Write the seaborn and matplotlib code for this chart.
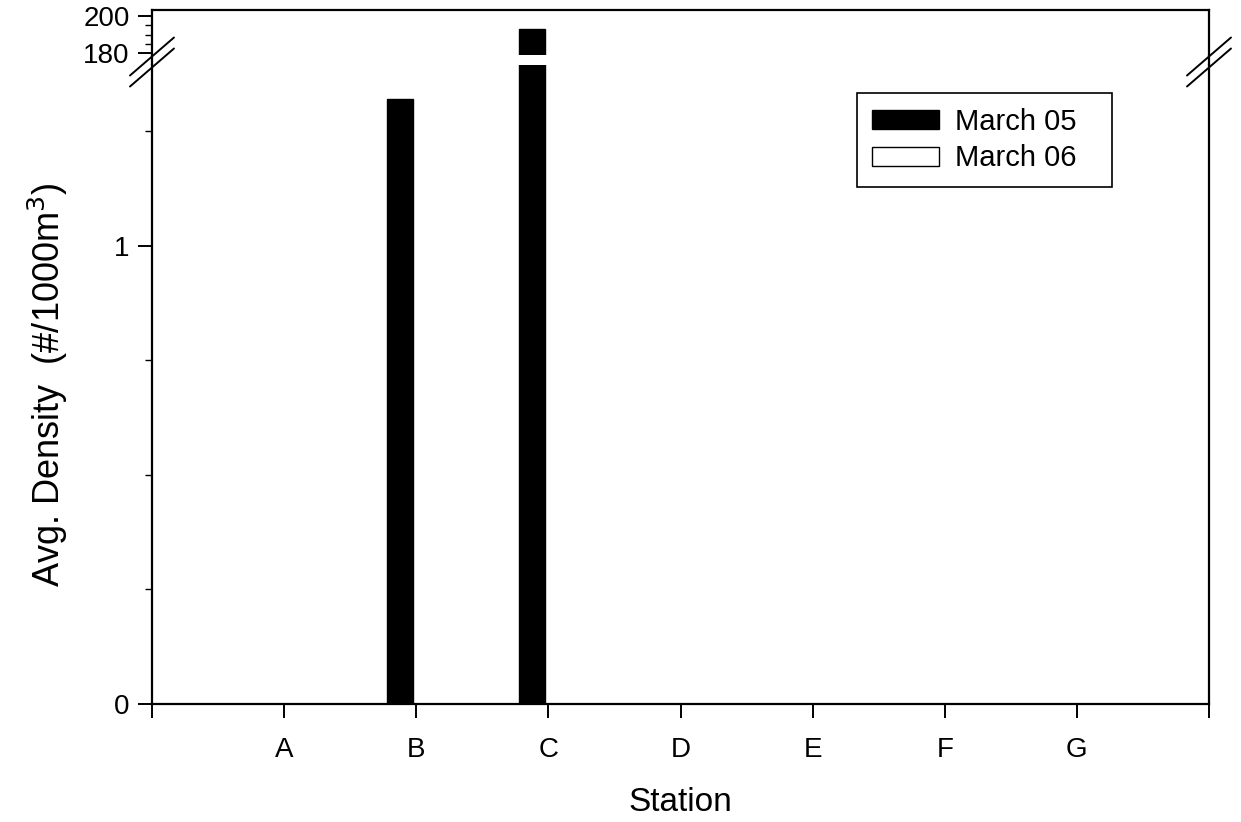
import numpy as np
import pandas as pd
import matplotlib
matplotlib.use("Agg")
import matplotlib.pyplot as plt
from matplotlib.lines import Line2D
from matplotlib.patches import Patch
from matplotlib.ticker import MultipleLocator, FixedLocator
import seaborn as sns

stations = ["A", "B", "C", "D", "E", "F", "G"]
march_05 = [0.0, 1.32, 193.0, 0.0, 0.0, 0.0, 0.0]
march_06 = [0.0, 0.0, 0.0, 0.0, 0.0, 0.0, 0.0]
surveys = ["March 05", "March 06"]
colors = {"March 05": "black", "March 06": "white"}

df = pd.DataFrame({
    "Station": stations * 2,
    "Density": march_05 + march_06,
    "Survey": [surveys[0]] * len(stations) + [surveys[1]] * len(stations),
})

sns.set_theme(style="ticks")
plt.rcParams["font.family"] = ["Liberation Sans", "DejaVu Sans"]
plt.rcParams["axes.edgecolor"] = "black"
plt.rcParams["xtick.color"] = "black"
plt.rcParams["ytick.color"] = "black"
plt.rcParams["text.color"] = "black"
plt.rcParams["axes.labelcolor"] = "black"

W, H = 1241, 822
fig = plt.figure(figsize=(W / 100, H / 100), dpi=100)

left, right = 152 / W, 1209 / W
low_bot, low_top = (H - 704) / H, (H - 65) / H
up_bot, up_top = (H - 55) / H, (H - 10) / H

ax_lo = fig.add_axes([left, low_bot, right - left, low_top - low_bot])
ax_up = fig.add_axes([left, up_bot, right - left, up_top - up_bot])

for ax in (ax_lo, ax_up):
    sns.barplot(data=df, x="Station", y="Density", hue="Survey",
                palette=colors, hue_order=surveys, order=stations,
                width=0.5, gap=0.2, edgecolor="black", linewidth=1.0,
                saturation=1, legend=False, ax=ax)
    ax.set_xlim(-1, 7)
    for s in ax.spines.values():
        s.set_linewidth(1.6)
    ax.tick_params(axis="both", which="major", direction="out",
                   length=10, width=1.4, labelsize=20)
    ax.tick_params(axis="y", which="major", pad=6)
    ax.tick_params(axis="x", which="major", pad=14)
    ax.tick_params(axis="both", which="minor", direction="out",
                   length=5, width=1.0)

# lower panel: 0 .. ~1.4
ax_lo.set_ylim(0, 1.395)
ax_lo.yaxis.set_major_locator(FixedLocator([0, 1]))
ax_lo.yaxis.set_minor_locator(FixedLocator([0.25, 0.5, 0.75, 1.25]))
ax_lo.set_yticklabels(["0", "1"])
ax_lo.spines["top"].set_visible(False)
ax_lo.set_xticks(range(-1, 8))
ax_lo.set_xticklabels([""] + stations + [""])
ax_lo.set_xlabel("Station", fontsize=24, labelpad=17)
ax_lo.set_ylabel("Avg. Density  (#/1000m$^3$)", fontsize=26, labelpad=32)

# upper panel: 180 .. 200
ax_up.set_ylim(179, 203.2)
ax_up.yaxis.set_major_locator(FixedLocator([180, 200]))
ax_up.yaxis.set_minor_locator(MultipleLocator(5))
ax_up.spines["bottom"].set_visible(False)
ax_up.set_xticks([])
ax_up.set_xlabel("")
ax_up.set_ylabel("")

# continue side spines through the break and add break marks
gap_top, gap_bot = up_bot, low_top
for xs in (left, right):
    fig.add_artist(Line2D([xs, xs], [gap_bot, gap_top], transform=fig.transFigure,
                          color="black", lw=1.6))
    yc = (H - 62) / H
    for off in (5.5, -5.5):
        dx, dy = 22 / W, 19 / H
        fig.add_artist(Line2D([xs - dx, xs + dx],
                              [yc + off / H - dy, yc + off / H + dy],
                              transform=fig.transFigure, color="black", lw=1.4))

# legend box stretched to a fixed width
lx0, lx1, ly0, ly1 = 857, 1112, 93, 187
handles = [Patch(facecolor=colors[s], edgecolor="black", linewidth=1.0) for s in surveys]
leg = ax_lo.legend(handles, surveys, loc="upper left", mode="expand",
                   bbox_to_anchor=((lx0 - 152) / 1057, (704 - ly1) / 639,
                                   (lx1 - lx0) / 1057, (ly1 - ly0) / 639),
                   borderaxespad=0, fontsize=21, frameon=True, fancybox=False,
                   framealpha=1, edgecolor="black", handlelength=2.3,
                   handleheight=0.62, handletextpad=0.55, labelspacing=0.3,
                   borderpad=0.5)
leg.get_frame().set_linewidth(1.2)

fig.savefig("out.png", dpi=100)
